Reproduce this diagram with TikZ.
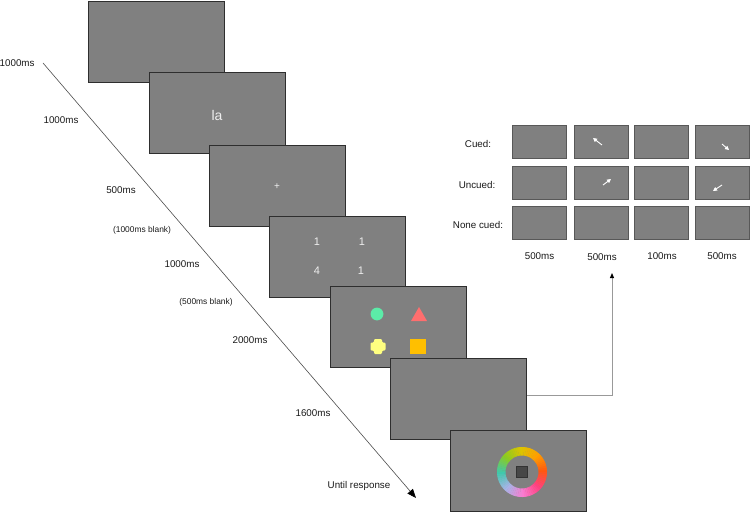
\documentclass[tikz,border=0pt]{standalone}
\usepackage{fontspec}
\setmainfont{Liberation Sans}
\usetikzlibrary{arrows.meta}
\definecolor{scr}{HTML}{808080}
\definecolor{scrb}{HTML}{2E2E2E}
\definecolor{txtw}{HTML}{EEEEEE}
\definecolor{mint}{HTML}{5CEBA8}
\definecolor{salmon}{HTML}{FF6E6E}
\definecolor{lemon}{HTML}{FFFF80}
\definecolor{amber}{HTML}{FFBF00}
\definecolor{wk0}{HTML}{FF5810}
\definecolor{wk1}{HTML}{FFA000}
\definecolor{wk2}{HTML}{DCC400}
\definecolor{wk3}{HTML}{8CCC20}
\definecolor{wk4}{HTML}{40C8AC}
\definecolor{wk5}{HTML}{A8B4E8}
\definecolor{wk6}{HTML}{F87CD0}
\definecolor{wk7}{HTML}{FF4080}
\definecolor{wk8}{HTML}{FF5810}
\tikzset{
  screen/.style={draw=scrb, fill=scr, line width=1.1pt, minimum width=136pt, minimum height=81pt, anchor=north west, inner sep=0pt},
  cell/.style={draw=scrb!80, fill=scr, line width=0.9pt, minimum width=54pt, minimum height=33pt, anchor=north west, inner sep=0pt},
  lbl/.style={font=\fontsize{9.8}{11}\selectfont, text=black!90, inner sep=0pt},
  smalllbl/.style={font=\fontsize{8.4}{10}\selectfont, text=black!90, inner sep=0pt},
  scrtxt/.style={text=txtw, inner sep=0pt},
  cuearrow/.style={draw=white, line width=0.9pt, -{Triangle[length=4pt,width=4pt]}},
  timeline/.style={draw=black!70, line width=0.6pt, -{Triangle[length=9pt,width=7pt,color=black]}},
  conn/.style={draw=black!40, line width=0.9pt, -{Triangle[length=5pt,width=4pt,color=black]}}
}
\begin{document}
\begin{tikzpicture}[x=1pt,y=-1pt]
\useasboundingbox (0,0) rectangle (751,513);
% timeline
\coordinate (tl0) at (43,63);
\coordinate (tl1) at (416,498);
\draw[timeline] (tl0) -- (tl1);
% timeline labels
\node[lbl, anchor=west] (t1) at (-0.5,63) {1000ms};
\node[lbl] (t2) at (61,120) {1000ms};
\node[lbl] (t3) at (121,190) {500ms};
\node[smalllbl] (t4) at (142,230) {(1000ms blank)};
\node[lbl] (t5) at (182,264) {1000ms};
\node[smalllbl] (t6) at (206,302) {(500ms blank)};
\node[lbl] (t7) at (250,340) {2000ms};
\node[lbl] (t8) at (313,413) {1600ms};
\node[lbl] (t9) at (359,486) {Until response};
% screens
\node[screen] (s1) at (88,1) {};
\node[screen] (s2) at (149,72) {};
\node[scrtxt, font=\fontsize{14}{16}\selectfont] (la) at (217,115) {la};
\node[screen] (s3) at (209,145) {};
\node[scrtxt, font=\fontsize{10}{11}\selectfont] (fix) at (277,187) {+};
\node[screen] (s4) at (269,216) {};
\node[scrtxt, font=\fontsize{11}{12}\selectfont] (n1) at (317,242) {1};
\node[scrtxt, font=\fontsize{11}{12}\selectfont] (n2) at (362,242) {1};
\node[scrtxt, font=\fontsize{11}{12}\selectfont] (n3) at (317,271) {4};
\node[scrtxt, font=\fontsize{11}{12}\selectfont] (n4) at (361,271) {1};
\node[screen] (s5) at (330,286) {};
\fill[mint] (377,314) circle[radius=6.4];
\fill[salmon] (419,307) -- (427,321) -- (411,321) -- cycle;
\fill[lemon, rounded corners=1.2pt] (374,339) -- (382,339) -- (382,342.5) -- (385.5,342.5) -- (385.5,350.5) -- (382,350.5) -- (382,354) -- (374,354) -- (374,350.5) -- (370.5,350.5) -- (370.5,342.5) -- (374,342.5) -- cycle;
\fill[amber] (410,339) rectangle (426,354);
\node[screen] (s6) at (390,358) {};
\node[screen] (s7) at (450,430) {};
% colour wheel
\begin{scope}[shift={(522,472)}, yscale=-1]
\foreach \wi in {0,...,71} {
  \pgfmathtruncatemacro\wk{floor(\wi/9)}
  \pgfmathtruncatemacro\wn{\wk+1}
  \pgfmathtruncatemacro\mixp{round(mod(\wi,9)/9*100)}
  \pgfmathsetmacro\wa{\wi*5}
  \pgfmathsetmacro\wb{\wi*5+5.6}
  \pgfmathsetmacro\wm{\wi*5+2.8}
  \fill[wk\wn!\mixp!wk\wk] (\wa:25) -- (\wm:25) -- (\wb:25) -- (\wb:16.5) -- (\wm:16.5) -- (\wa:16.5) -- cycle;
}
\end{scope}
\filldraw[fill=black!72, draw=black!80, line width=0.6pt] (516.5,466.5) rectangle (527.5,477.5);
% cue grid
\foreach \c/\cx in {1/512,2/574,3/634,4/695} {
  \foreach \r/\ry in {1/125,2/166,3/206} {
    \node[cell] (g\r\c) at (\cx,\ry) {};
  }
}
\node[lbl] (rc) at (478,144) {Cued:};
\node[lbl] (ru) at (477,185) {Uncued:};
\node[lbl] (rn) at (478,225) {None cued:};
\node[lbl] (d1) at (539.5,256) {500ms};
\node[lbl] (d2) at (602,257) {500ms};
\node[lbl] (d3) at (662,256) {100ms};
\node[lbl] (d4) at (722,256) {500ms};
% cue arrows
\coordinate (a1s) at (602,145); \coordinate (a1e) at (593,138);
\coordinate (a2s) at (603,185); \coordinate (a2e) at (611,179);
\coordinate (a3s) at (722,144); \coordinate (a3e) at (729,150);
\coordinate (a4s) at (722,185); \coordinate (a4e) at (713,191);
\draw[cuearrow] (a1s) -- (a1e);
\draw[cuearrow] (a2s) -- (a2e);
\draw[cuearrow] (a3s) -- (a3e);
\draw[cuearrow] (a4s) -- (a4e);
% connector
\coordinate (cuetip) at (612,273);
\draw[conn] ([yshift=4pt]s6.east) -| (cuetip);
\end{tikzpicture}
\end{document}
